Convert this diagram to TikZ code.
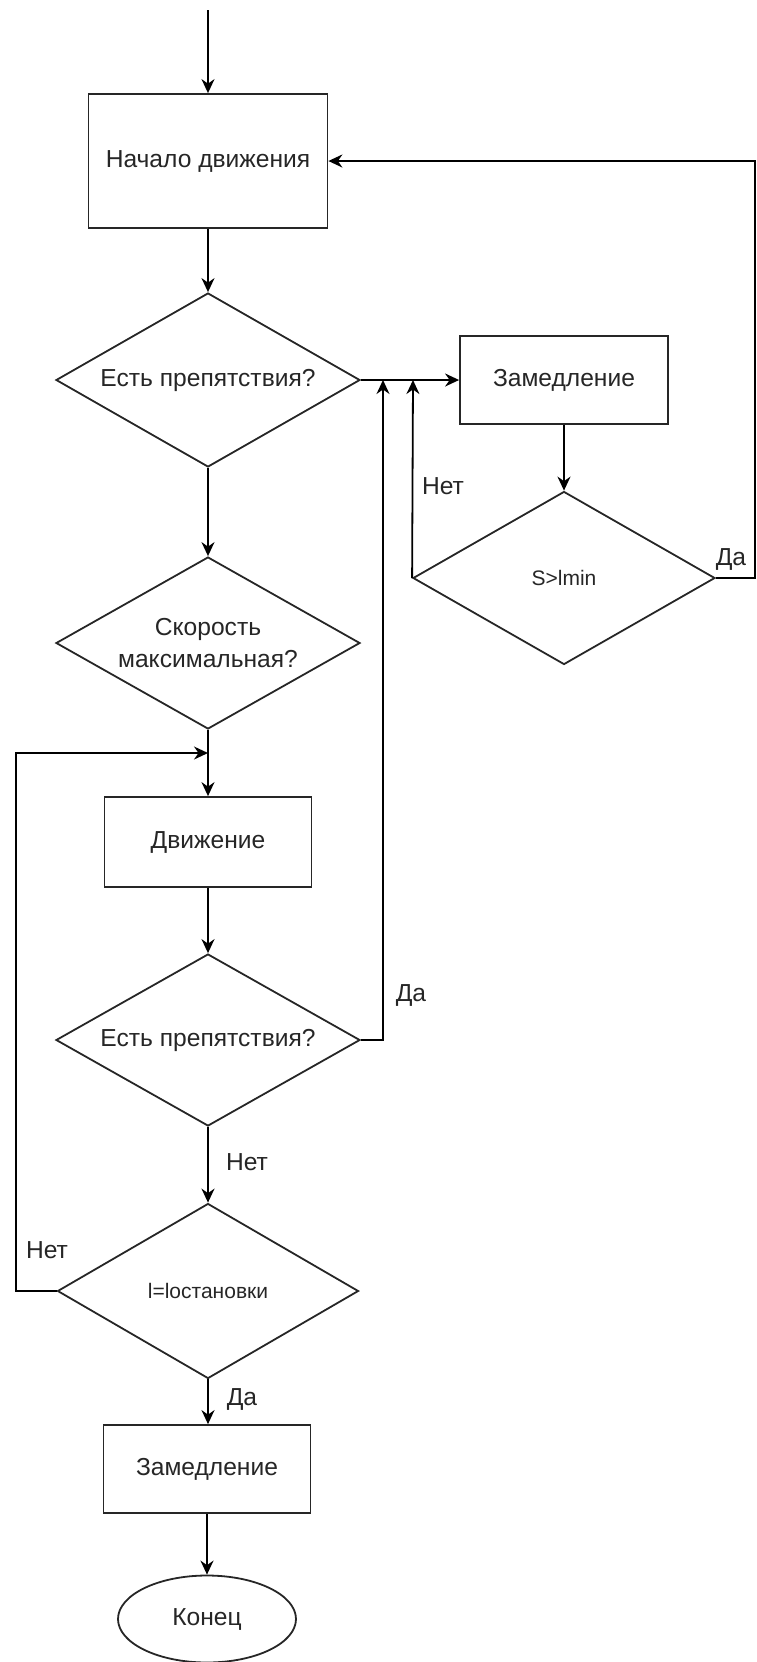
\documentclass[tikz,border=0pt]{standalone}
\usepackage{fontspec}
\setmainfont{Liberation Sans}
\usetikzlibrary{shapes.geometric,arrows.meta}
\begin{document}
\begin{tikzpicture}[x=0.5pt,y=-0.5pt,
  font=\fontsize{12.3pt}{16pt}\selectfont,
  proc/.style={draw=black!85, line width=0.9pt, rectangle, inner sep=0pt, align=center, text=black!85},
  dec/.style={draw=black!85, line width=0.9pt, diamond, aspect=1.75, inner sep=0pt, align=center, text=black!85},
  term/.style={draw=black!85, line width=0.9pt, ellipse, inner sep=0pt, text=black!85},
  conn/.style={draw=black, line width=0.9pt, -{Stealth[length=7pt,width=6.5pt]}},
  lbl/.style={inner sep=0pt, text=black!85},
  small/.style={font=\fontsize{10.5pt}{13pt}\selectfont}
]
\useasboundingbox (0,0) rectangle (756,1662);

% nodes
\coordinate (top) at (208,10);
\node[proc, minimum width=119.5pt, minimum height=67pt] (b1) at (208,161) {Начало движения};
\node[dec, minimum width=152pt, minimum height=87pt] (d1) at (208,380) {Есть препятствия?};
\node[proc, minimum width=104pt, minimum height=44pt] (b2) at (564,380) {Замедление};
\node[dec, minimum width=151pt, minimum height=86.5pt, small] (d2r) at (564,578) {S>lmin};
\node[dec, minimum width=152pt, minimum height=86pt] (d2) at (208,643) {Скорость\\максимальная?};
\node[proc, minimum width=103.5pt, minimum height=45pt] (b3) at (208,842) {Движение};
\node[dec, minimum width=152pt, minimum height=86pt] (d3) at (208,1040) {Есть препятствия?};
\node[dec, minimum width=150.5pt, minimum height=87.5pt, small] (d4) at (208,1291) {l=lостановки};
\node[proc, minimum width=103.5pt, minimum height=44pt] (b4) at (207,1469) {Замедление};
\node[term, minimum width=89pt, minimum height=43.5pt] (end) at (207,1619) {Конец};

\coordinate (j1) at (413,380);
\coordinate (j2) at (383,380);
\coordinate (j3) at (208,753);

% labels
\node[lbl] (l1) at (443,486) {Нет};
\node[lbl] (l2) at (731,559) {Да};
\node[lbl] (l3) at (411,995) {Да};
\node[lbl] (l4) at (247,1162) {Нет};
\node[lbl] (l5) at (47,1250) {Нет};
\node[lbl] (l6) at (242,1399) {Да};

% connectors
\draw[conn] (top) -- (b1);
\draw[conn] (b1) -- (d1);
\draw[conn] (d1) -- (b2);
\draw[conn] (b2) -- (d2r);
\draw[conn] (d1) -- (d2);
\draw[conn] (d2) -- (b3);
\draw[conn] (b3) -- (d3);
\draw[conn] (d3) -- (d4);
\draw[conn] (d4) -- (d4 |- b4.north);
\draw[conn] (b4) -- (end);
\draw[conn] (d2r.east) -- ++(39,0) |- (b1.east);
\draw[conn] (d2r.west) -- (j1);
\draw[conn] (d3.east) -| (j2);
\draw[conn] (d4.west) -- ++(-41,0) |- (j3);
\end{tikzpicture}
\end{document}
